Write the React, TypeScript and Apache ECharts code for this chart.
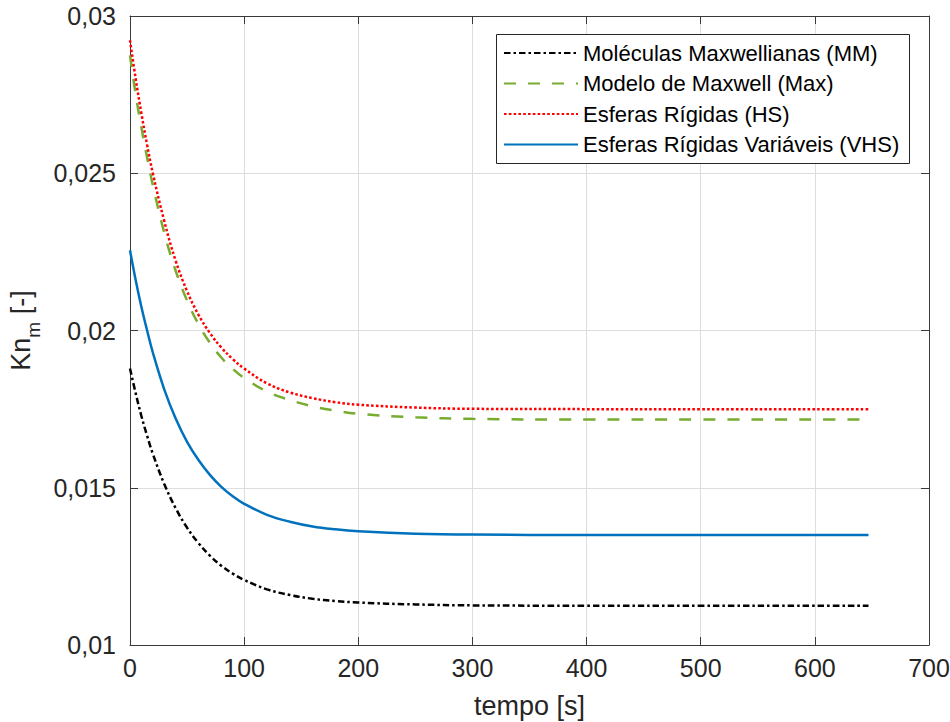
import React, { useEffect, useRef } from "react";
import * as echarts from "echarts";

// time samples [s]
const tempo = [0, 5, 10, 15, 20, 30, 40, 50, 60, 70, 80, 90, 100, 120, 140, 160, 180, 200, 250, 300, 400, 500, 600, 647];

// Knudsen number Kn_m [-]
const knMM = [0.01879, 0.0180, 0.01728, 0.01665, 0.01608, 0.01512, 0.01435, 0.01373, 0.01324, 0.01284, 0.01252, 0.01227, 0.01207, 0.01177, 0.01159, 0.01147, 0.0114, 0.01135, 0.01129, 0.01126, 0.01125, 0.01125, 0.01125, 0.01125];
const knMax = [0.02875, 0.0275, 0.02645, 0.0255, 0.02462, 0.02311, 0.0219, 0.02095, 0.0202, 0.01961, 0.01914, 0.01878, 0.01849, 0.01806, 0.01779, 0.01759, 0.01745, 0.01735, 0.01724, 0.01719, 0.01717, 0.01717, 0.01717, 0.01717];
const knHS = [0.02923, 0.0280, 0.0269, 0.0259, 0.0250, 0.02348, 0.02222, 0.02125, 0.0205, 0.01992, 0.01946, 0.01909, 0.01879, 0.01832, 0.01803, 0.01785, 0.01772, 0.01764, 0.01755, 0.01751, 0.0175, 0.0175, 0.0175, 0.0175];
const knVHS = [0.02255, 0.0216, 0.02075, 0.0200, 0.0193, 0.01813, 0.0172, 0.01646, 0.01588, 0.01541, 0.01503, 0.01473, 0.01449, 0.01414, 0.01392, 0.01377, 0.01368, 0.01362, 0.01354, 0.01351, 0.0135, 0.0135, 0.0135, 0.0135];

const seriesNames = [
  "Moléculas Maxwellianas (MM)",
  "Modelo de Maxwell (Max)",
  "Esferas Rígidas (HS)",
  "Esferas Rígidas Variáveis (VHS)",
];

const FONT = "'Liberation Sans', Arial, Helvetica, sans-serif";
const AX = "#3a3a3a";
const TXT = "#262626";
const GRID = "#dedede";

function pairs(ys: number[]) {
  return tempo.map((t, i) => [t, ys[i]]);
}

export default function App() {
  const ref = useRef<HTMLDivElement>(null);
  useEffect(() => {
    document.body.style.margin = "0";
    const chart = echarts.init(ref.current!, null, { renderer: "svg" });
    const axisCommon = {
      axisLine: { show: true, onZero: false, lineStyle: { color: AX, width: 1 } },
      axisTick: { show: true, inside: true, length: 8, lineStyle: { color: AX, width: 1 } },
    };
    const fmtY = (v: number) => String(Number(v.toPrecision(6))).replace(".", ",");
    const lineSeries = (name: string, ys: number[], color: string, type: any) => ({
      name,
      type: "line",
      data: pairs(ys),
      showSymbol: false,
      symbol: "none",
      smooth: 0.4,
      lineStyle: { color, width: 2.5, type, cap: "butt" },
      itemStyle: { color },
    });
    chart.setOption({
      animation: false,
      backgroundColor: "#ffffff",
      textStyle: { fontFamily: FONT },
      grid: { left: 130, right: 21, top: 16, bottom: 77, containLabel: false, outerBoundsMode: "none" },
      xAxis: [
        {
          type: "value",
          min: 0,
          max: 700,
          interval: 100,
          position: "bottom",
          ...axisCommon,
          axisLabel: { fontSize: 25, color: TXT, margin: 10, fontFamily: FONT },
          splitLine: { show: true, lineStyle: { color: GRID, width: 1 } },
          name: "tempo [s]",
          nameLocation: "middle",
          nameGap: 47,
          nameTextStyle: { fontSize: 27, color: TXT, fontFamily: FONT },
        },
        {
          type: "value",
          min: 0,
          max: 700,
          interval: 100,
          position: "top",
          ...axisCommon,
          axisLabel: { show: false },
          splitLine: { show: false },
        },
      ],
      yAxis: [
        {
          type: "value",
          min: 0.01,
          max: 0.03,
          interval: 0.005,
          position: "left",
          ...axisCommon,
          axisLabel: { fontSize: 25, color: TXT, margin: 14, fontFamily: FONT, formatter: fmtY },
          splitLine: { show: true, lineStyle: { color: GRID, width: 1 } },
          name: "Kn{sub|m} [-]",
          nameLocation: "middle",
          nameRotate: 90,
          nameGap: 84,
          nameTextStyle: {
            fontSize: 27,
            color: TXT,
            fontFamily: FONT,
            lineHeight: 44,
            verticalAlign: "middle",
            rich: {
              sub: { fontSize: 19, lineHeight: 19, verticalAlign: "bottom", color: TXT, fontFamily: FONT },
            },
          },
        },
        {
          type: "value",
          min: 0.01,
          max: 0.03,
          interval: 0.005,
          position: "right",
          ...axisCommon,
          axisLabel: { show: false },
          splitLine: { show: false },
        },
      ],
      legend: {
        orient: "vertical",
        left: 503,
        top: 41,
        padding: 0,
        itemWidth: 74,
        itemHeight: 14,
        itemGap: 6.5,
        selectedMode: false,
        data: seriesNames,
        itemStyle: { color: "transparent", borderColor: "transparent", borderWidth: 0, opacity: 0 },
        textStyle: { fontSize: 22, lineHeight: 24, color: "#000", fontFamily: FONT },
        z: 5,
      },
      graphic: [
        {
          type: "rect",
          z: 4,
          shape: { x: 496.5, y: 34.5, width: 413, height: 129 },
          style: { fill: "#ffffff", stroke: "#262626", lineWidth: 1 },
        },
      ],
      series: [
        lineSeries(seriesNames[0], knMM, "#000000", [6.5, 3, 2.5, 3]),
        lineSeries(seriesNames[1], knMax, "#77AC30", [12, 12]),
        lineSeries(seriesNames[2], knHS, "#FF0000", [2.6, 2.2]),
        lineSeries(seriesNames[3], knVHS, "#0072BD", "solid"),
      ],
    });
    return () => chart.dispose();
  }, []);
  return <div ref={ref} style={{ width: 950, height: 722 }} />;
}
